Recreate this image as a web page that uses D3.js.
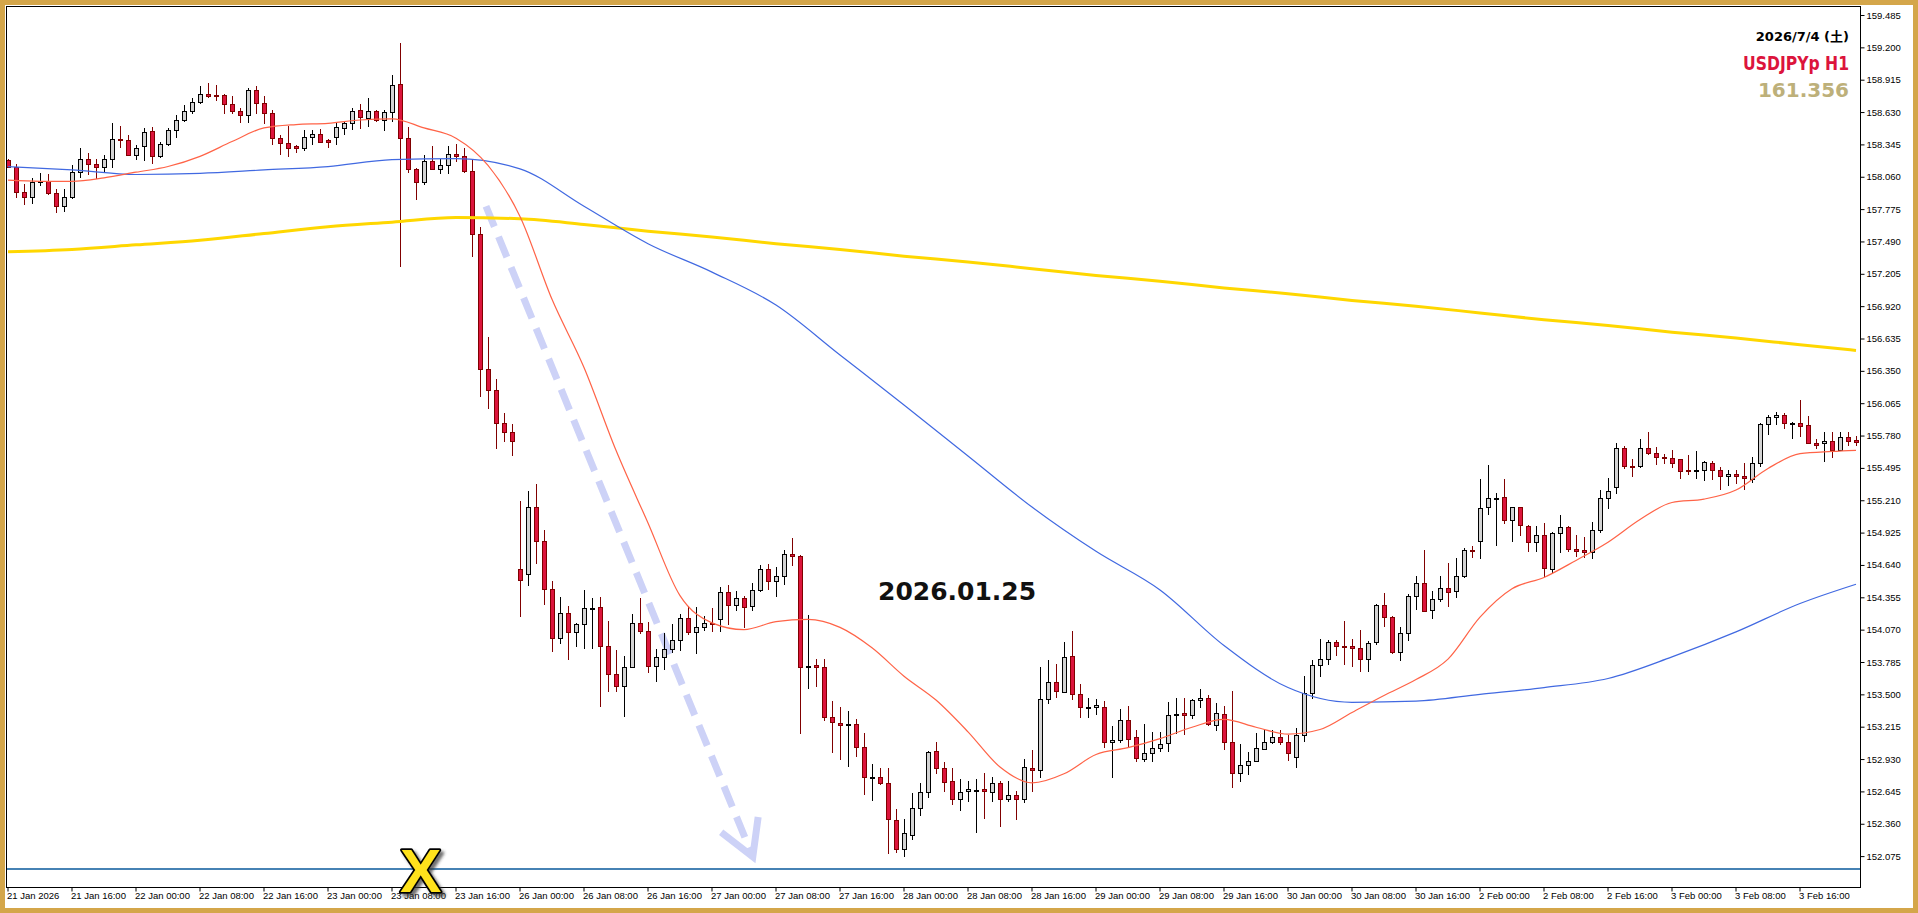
<!DOCTYPE html>
<html>
<head>
<meta charset="utf-8">
<script src="https://cdn.jsdelivr.net/npm/d3@7"></script>
<style>
  body { margin: 0; background: #fff; }
  svg { display: block; }
</style>
</head>
<body>
<div id="chart"></div>
<script>
// USDJPYp H1, 21 Jan 08:00 -> 3 Feb 23:00 (232 bars, weekends skipped)
const open = [
  158.21,158.15,157.93,157.88,158.01,158.02,157.92,157.80,157.88,158.10,158.22,158.17,158.15,158.22,158.39,158.38,
  158.25,158.33,158.46,158.24,158.35,158.47,158.56,158.64,158.72,158.79,158.78,158.78,158.70,158.64,158.60,158.82,
  158.71,158.62,158.40,158.36,158.33,158.31,158.41,158.44,158.38,158.41,158.49,158.53,158.65,158.58,158.64,158.56,
  158.63,158.88,158.40,158.13,158.01,158.20,158.13,158.16,158.26,158.24,158.11,157.56,156.37,156.18,155.89,155.81,
  154.60,154.56,155.15,154.85,154.43,154.00,154.22,154.05,154.12,154.26,154.27,153.93,153.68,153.57,153.74,154.13,
  154.06,153.75,153.83,153.90,153.98,154.17,154.05,154.09,154.13,154.16,154.40,154.29,154.35,154.28,154.42,154.60,
  154.50,154.54,154.74,154.72,153.74,153.76,153.74,153.30,153.25,153.23,153.24,153.04,152.77,152.77,152.72,152.39,
  152.14,152.26,152.50,152.64,153.00,152.85,152.74,152.58,152.65,152.66,152.67,152.64,152.72,152.58,152.61,152.58,
  152.85,152.83,153.46,153.61,153.52,153.84,153.50,153.39,153.39,153.39,153.08,153.10,153.27,153.12,152.93,152.98,
  153.03,153.07,153.32,153.34,153.32,153.45,153.47,153.23,153.33,153.08,152.81,152.88,152.91,153.02,153.08,153.12,
  153.08,152.95,153.14,153.51,153.76,153.81,153.96,153.93,153.93,153.91,153.81,153.96,154.29,154.18,153.87,154.04,
  154.37,154.48,154.24,154.34,154.44,154.41,154.54,154.77,154.85,155.15,155.23,155.24,155.04,155.15,154.98,154.84,
  154.90,154.60,154.92,154.97,154.78,154.77,154.75,154.95,155.23,155.33,155.67,155.51,155.51,155.67,155.63,155.59,
  155.58,155.57,155.48,155.47,155.48,155.54,155.48,155.42,155.44,155.42,155.40,155.54,155.88,155.94,155.96,155.89,
  155.89,155.87,155.71,155.71,155.73,155.65,155.77,155.74
];
const high = [
  158.22,158.17,158.00,158.05,158.09,158.08,157.95,157.95,158.16,158.31,158.27,158.22,158.25,158.53,158.51,158.43,
  158.34,158.49,158.50,158.37,158.49,158.60,158.69,158.75,158.86,158.89,158.87,158.79,158.77,158.67,158.84,158.86,
  158.77,158.65,158.43,158.51,158.34,158.47,158.47,158.48,158.39,158.54,158.55,158.67,158.70,158.75,158.65,158.65,
  158.96,159.24,158.50,158.14,158.25,158.33,158.22,158.33,158.35,158.31,158.22,157.62,156.65,156.28,155.98,155.88,
  155.20,155.29,155.35,154.95,154.50,154.36,154.28,154.13,154.42,154.35,154.36,154.15,153.89,153.84,154.21,154.35,
  154.14,153.90,154.04,154.12,154.21,154.28,154.27,154.19,154.26,154.45,154.46,154.41,154.37,154.48,154.64,154.65,
  154.62,154.77,154.88,154.73,154.20,153.81,153.81,153.44,153.39,153.35,153.28,153.16,152.89,152.85,152.85,152.49,
  152.40,152.63,152.72,153.00,153.08,152.90,152.85,152.75,152.74,152.75,152.81,152.77,152.74,152.74,152.65,152.93,
  153.01,153.74,153.80,153.77,153.96,154.06,153.59,153.47,153.46,153.44,153.22,153.37,153.40,153.19,153.24,153.17,
  153.17,153.43,153.47,153.47,153.46,153.55,153.49,153.42,153.40,153.53,153.06,152.99,153.16,153.19,153.19,153.19,
  153.14,153.20,153.66,153.80,153.99,153.98,153.98,154.15,153.99,154.07,153.97,154.30,154.39,154.19,154.09,154.38,
  154.54,154.77,154.41,154.54,154.66,154.70,154.79,154.81,155.40,155.52,155.27,155.40,155.15,155.15,154.99,154.98,
  155.01,154.93,155.08,154.98,154.90,154.89,155.02,155.30,155.41,155.71,155.69,155.57,155.75,155.81,155.68,155.62,
  155.65,155.57,155.61,155.64,155.56,155.56,155.50,155.48,155.48,155.54,155.59,155.89,155.96,155.99,155.98,155.90,
  156.09,155.95,155.75,155.81,155.81,155.81,155.81,155.78
];
const low = [
  158.15,157.88,157.82,157.83,157.99,157.91,157.75,157.76,157.87,158.06,158.08,158.05,158.11,158.15,158.32,158.25,
  158.22,158.21,158.18,158.23,158.34,158.41,158.55,158.62,158.71,158.76,158.74,158.62,158.62,158.54,158.54,158.62,
  158.53,158.35,158.26,158.24,158.28,158.30,158.35,158.37,158.32,158.35,158.44,158.48,158.49,158.51,158.55,158.47,
  158.55,157.27,158.10,157.86,158.00,158.13,158.09,158.09,158.20,158.10,157.36,156.13,156.02,155.67,155.73,155.61,
  154.19,154.46,154.66,154.30,153.88,153.95,153.81,153.93,153.91,153.91,153.40,153.53,153.53,153.31,153.74,154.04,
  153.70,153.62,153.72,153.87,153.89,154.03,153.86,154.07,154.06,154.06,154.12,154.24,154.09,154.24,154.41,154.43,
  154.37,154.47,154.64,153.16,153.56,153.57,153.27,152.99,152.93,152.87,152.96,152.62,152.57,152.71,152.10,152.11,
  152.08,152.23,152.44,152.60,152.81,152.65,152.53,152.48,152.56,152.29,152.41,152.56,152.34,152.56,152.40,152.55,
  152.65,152.77,153.42,153.48,153.52,153.46,153.30,153.30,153.33,153.04,152.77,153.08,153.04,152.91,152.91,152.91,
  153.00,153.00,153.16,153.15,153.29,153.39,153.23,153.19,153.02,152.68,152.74,152.80,152.91,153.02,153.07,153.06,
  152.92,152.86,153.09,153.47,153.66,153.77,153.85,153.77,153.75,153.71,153.71,153.94,154.10,153.86,153.80,153.98,
  154.25,154.23,154.17,154.32,154.28,154.36,154.53,154.71,154.70,155.09,154.82,155.01,154.85,154.90,154.76,154.76,
  154.54,154.58,154.75,154.76,154.72,154.71,154.70,154.93,155.14,155.27,155.49,155.42,155.50,155.62,155.53,155.54,
  155.50,155.41,155.44,155.41,155.39,155.40,155.31,155.34,155.36,155.31,155.37,155.51,155.79,155.88,155.85,155.76,
  155.78,155.71,155.67,155.56,155.59,155.65,155.70,155.70
];
const close = [
  158.15,157.93,157.88,158.01,158.02,157.92,157.80,157.88,158.10,158.22,158.17,158.15,158.22,158.39,158.38,158.25,
  158.31,158.45,158.24,158.35,158.47,158.56,158.64,158.72,158.79,158.77,158.77,158.70,158.64,158.60,158.82,158.71,
  158.62,158.40,158.36,158.31,158.31,158.41,158.44,158.37,158.37,158.50,158.53,158.64,158.59,158.64,158.56,158.63,
  158.87,158.40,158.13,158.01,158.20,158.13,158.16,158.26,158.24,158.11,157.56,156.37,156.18,155.89,155.81,155.73,
  154.51,155.15,154.85,154.43,154.00,154.22,154.05,154.12,154.26,154.26,153.93,153.68,153.57,153.74,154.13,154.06,
  153.75,153.83,153.90,153.98,154.17,154.05,154.09,154.13,154.12,154.40,154.29,154.35,154.27,154.42,154.60,154.50,
  154.54,154.74,154.72,153.74,153.75,153.74,153.30,153.26,153.23,153.24,153.04,152.77,152.77,152.72,152.40,152.14,
  152.28,152.50,152.64,152.99,152.85,152.73,152.58,152.64,152.67,152.66,152.65,152.72,152.58,152.61,152.58,152.86,
  152.83,153.46,153.61,153.53,153.83,153.50,153.39,153.39,153.41,153.08,153.10,153.27,153.11,152.94,152.98,153.03,
  153.06,153.32,153.33,153.32,153.45,153.47,153.24,153.34,153.08,152.81,152.88,152.91,153.03,153.08,153.12,153.08,
  152.98,153.14,153.51,153.76,153.81,153.96,153.93,153.92,153.91,153.81,153.95,154.29,154.18,153.87,154.04,154.37,
  154.48,154.23,154.34,154.44,154.40,154.54,154.77,154.76,155.14,155.23,155.23,155.04,155.15,154.99,154.84,154.90,
  154.61,154.92,154.97,154.78,154.76,154.75,154.95,155.23,155.29,155.67,155.51,155.50,155.67,155.63,155.59,155.58,
  155.54,155.47,155.47,155.48,155.55,155.48,155.42,155.44,155.42,155.41,155.54,155.88,155.94,155.96,155.89,155.89,
  155.86,155.71,155.70,155.73,155.65,155.77,155.73,155.72
];

// fast MA (red), read every 4 bars
const fastBars = [0,4,8,12,16,20,24,28,32,36,40,44,48,52,56,60,64,68,72,76,80,84,88,92,96,100,104,108,112,116,
                  120,124,128,132,136,140,144,148,152,156,160,164,168,172,176,180,184,188,192,196,200,204,208,212,216,220,224,228,231];
const maFast = [158.03,158.02,158.02,158.05,158.10,158.15,158.24,158.37,158.49,158.52,158.53,158.56,158.57,158.49,158.40,158.16,
                157.71,156.98,156.38,155.65,155.01,154.37,154.13,154.07,154.14,154.16,154.09,153.91,153.66,153.45,
                153.17,152.86,152.72,152.80,152.97,153.03,153.11,153.21,153.28,153.21,153.15,153.19,153.34,153.49,153.63,153.81,
                154.18,154.43,154.53,154.68,154.84,155.04,155.19,155.22,155.30,155.49,155.62,155.64,155.65];

// slower MAs (blue, yellow), read every 8 bars plus the last bar
const maBars = [0,8,16,24,32,40,48,56,64,72,80,88,96,104,112,120,128,136,144,152,160,168,176,184,192,200,208,216,224,231];
const maMid  = [158.15,158.12,158.08,158.09,158.12,158.15,158.21,158.22,158.13,157.80,157.47,157.22,156.93,156.49,156.05,155.60,
                155.15,154.76,154.42,153.93,153.56,153.43,153.44,153.50,153.56,153.64,153.83,154.05,154.30,154.47];
const maSlow = [157.40,157.42,157.46,157.50,157.56,157.62,157.66,157.70,157.69,157.64,157.58,157.53,157.47,157.42,157.36,157.31,
                157.25,157.19,157.14,157.08,157.03,156.97,156.92,156.86,156.80,156.75,156.69,156.64,156.58,156.53];

const priceTicks = [159.485,159.200,158.915,158.630,158.345,158.060,157.775,157.490,157.205,156.920,156.635,156.350,156.065,
                    155.780,155.495,155.210,154.925,154.640,154.355,154.070,153.785,153.500,153.215,152.930,152.645,152.360,152.075];
const timeTickBars = [0,8,16,24,32,40,48,56,64,72,80,88,96,104,112,120,128,136,144,152,160,168,176,184,192,200,208,216,224];
const timeLabels = ["21 Jan 2026","21 Jan 16:00","22 Jan 00:00","22 Jan 08:00","22 Jan 16:00","23 Jan 00:00","23 Jan 08:00",
  "23 Jan 16:00","26 Jan 00:00","26 Jan 08:00","26 Jan 16:00","27 Jan 00:00","27 Jan 08:00","27 Jan 16:00","28 Jan 00:00",
  "28 Jan 08:00","28 Jan 16:00","29 Jan 00:00","29 Jan 08:00","29 Jan 16:00","30 Jan 00:00","30 Jan 08:00","30 Jan 16:00",
  "2 Feb 00:00","2 Feb 08:00","2 Feb 16:00","3 Feb 00:00","3 Feb 08:00","3 Feb 16:00"];

const hLinePrice = 151.96;
const arrowFrom = { bar: 59.75, price: 157.80 };
const arrowTo   = { bar: 93.1,  price: 152.07 };
const dateNote  = { bar: 108.75, price: 154.33, text: "2026.01.25" };
const xMark     = { bar: 51.6,  price: 151.76, text: "X" };

const width = 1918, height = 913;
const plot = { left: 6, top: 6, right: 1860, bottom: 887 };

const svg = d3.select("#chart").append("svg")
  .attr("width", width)
  .attr("height", height);

const x = d3.scaleLinear().domain([0, 231]).range([8, 1856]);
const y = d3.scaleLinear().domain([152.075, 159.485]).range([856.1, 15]);

// frame
svg.append("rect").attr("width", width).attr("height", height).attr("fill", "#D4A64A");
svg.append("rect").attr("x", 5).attr("y", 5).attr("width", 1908).attr("height", 903).attr("fill", "#fff");

const defs = svg.append("defs");
defs.append("clipPath").attr("id", "plotclip")
  .append("rect")
  .attr("x", plot.left + 1).attr("y", plot.top + 1)
  .attr("width", plot.right - plot.left - 1).attr("height", plot.bottom - plot.top - 1);
const shadow = defs.append("filter").attr("id", "xshadow")
  .attr("x", "-30%").attr("y", "-30%").attr("width", "170%").attr("height", "170%");
shadow.append("feDropShadow").attr("dx", 3).attr("dy", 3).attr("stdDeviation", 1.6)
  .attr("flood-color", "#333").attr("flood-opacity", 0.7);

const g = svg.append("g").attr("clip-path", "url(#plotclip)");

// dashed trend arrow (drawn behind the candles)
const ax1 = x(arrowFrom.bar), ay1 = y(arrowFrom.price);
const ax2 = x(arrowTo.bar), ay2 = y(arrowTo.price);
const ang = Math.atan2(ay2 - ay1, ax2 - ax1);
g.append("line")
  .attr("x1", ax1).attr("y1", ay1)
  .attr("x2", ax2 - 6 * Math.cos(ang)).attr("y2", ay2 - 6 * Math.sin(ang))
  .attr("stroke", "#CDD2F7").attr("stroke-width", 7)
  .attr("stroke-dasharray", "22,11");
const headLen = 40, spread = Math.PI / 6;
g.append("polyline")
  .attr("points", [
    [ax2 - headLen * Math.cos(ang - spread), ay2 - headLen * Math.sin(ang - spread)],
    [ax2, ay2],
    [ax2 - headLen * Math.cos(ang + spread), ay2 - headLen * Math.sin(ang + spread)]
  ].map(p => p.join(",")).join(" "))
  .attr("fill", "none").attr("stroke", "#CDD2F7").attr("stroke-width", 7)
  .attr("stroke-linejoin", "miter");

// candles
const bars = d3.range(open.length).map(i => ({
  i: i, o: open[i], h: high[i], l: low[i], c: close[i], up: close[i] >= open[i]
}));

const candle = g.append("g").selectAll("g")
  .data(bars)
  .enter().append("g");

candle.append("line")
  .attr("x1", d => Math.round(x(d.i)) + 0.5)
  .attr("x2", d => Math.round(x(d.i)) + 0.5)
  .attr("y1", d => Math.round(y(d.h)))
  .attr("y2", d => Math.round(y(d.l)) + 1)
  .attr("stroke", d => d.up ? "#000" : "#800000")
  .attr("stroke-width", 1);

candle.append("rect")
  .attr("x", d => Math.round(x(d.i)) - 1.5)
  .attr("width", 4)
  .attr("y", d => Math.round(y(Math.max(d.o, d.c))) + 0.5)
  .attr("height", d => Math.max(1, Math.round(y(Math.min(d.o, d.c))) - Math.round(y(Math.max(d.o, d.c)))))
  .attr("fill", d => d.up ? "#D3D3D3" : "#DC143C")
  .attr("stroke", d => d.up ? "#000" : "#800000")
  .attr("stroke-width", 1);

// moving averages
const maLine = d3.line()
  .x(d => x(d[0]))
  .y(d => y(d[1]))
  .curve(d3.curveMonotoneX);

g.append("path")
  .attr("d", maLine(maBars.map((b, k) => [b, maSlow[k]])))
  .attr("fill", "none").attr("stroke", "#FFD700").attr("stroke-width", 3);
g.append("path")
  .attr("d", maLine(maBars.map((b, k) => [b, maMid[k]])))
  .attr("fill", "none").attr("stroke", "#4169E1").attr("stroke-width", 1.2);
g.append("path")
  .attr("d", maLine(fastBars.map((b, k) => [b, maFast[k]])))
  .attr("fill", "none").attr("stroke", "#FF6347").attr("stroke-width", 1.2);

// horizontal level
g.append("line")
  .attr("x1", plot.left).attr("x2", plot.right)
  .attr("y1", Math.round(y(hLinePrice))).attr("y2", Math.round(y(hLinePrice)))
  .attr("stroke", "#4682B4").attr("stroke-width", 2);

// date note
svg.append("text")
  .attr("x", x(dateNote.bar))
  .attr("y", y(dateNote.price))
  .attr("font-family", "'DejaVu Sans', sans-serif")
  .attr("font-weight", "bold")
  .attr("font-size", 25)
  .attr("fill", "#111")
  .text(dateNote.text);

// plot frame
svg.append("rect")
  .attr("x", plot.left + 0.5).attr("y", plot.top + 0.5)
  .attr("width", plot.right - plot.left).attr("height", plot.bottom - plot.top)
  .attr("fill", "none").attr("stroke", "#000").attr("stroke-width", 1);

// price axis
const yAxis = svg.append("g")
  .attr("transform", "translate(" + (plot.right + 0.5) + ",0)")
  .call(d3.axisRight(y).tickValues(priceTicks).tickSize(4).tickPadding(2).tickFormat(d3.format(".3f")));
yAxis.select(".domain").remove();
yAxis.selectAll("line").attr("stroke", "#000");
yAxis.selectAll("text")
  .attr("font-family", "'Liberation Sans', Arial, sans-serif")
  .attr("font-size", 9.5)
  .attr("fill", "#000");

// time axis
const xAxis = svg.append("g")
  .attr("transform", "translate(-0.5," + (plot.bottom + 0.5) + ")")
  .call(d3.axisBottom(x).tickValues(timeTickBars).tickSize(4)
    .tickFormat((d, k) => timeLabels[k]));
xAxis.select(".domain").remove();
xAxis.selectAll("line").attr("stroke", "#000");
xAxis.selectAll("text")
  .attr("text-anchor", "start")
  .attr("x", -1)
  .attr("y", 5)
  .attr("font-family", "'Liberation Sans', Arial, sans-serif")
  .attr("font-size", 9.5)
  .attr("fill", "#000");

// X marker
svg.append("text")
  .attr("x", x(xMark.bar))
  .attr("y", y(xMark.price))
  .attr("text-anchor", "middle")
  .attr("font-family", "'Liberation Sans', Arial, sans-serif")
  .attr("font-weight", "bold")
  .attr("font-size", 62)
  .attr("fill", "#FFE21A")
  .attr("stroke", "#000")
  .attr("stroke-width", 3.5)
  .attr("stroke-linejoin", "round")
  .attr("paint-order", "stroke")
  .attr("filter", "url(#xshadow)")
  .text(xMark.text);

// symbol info, top right
const info = svg.append("g").attr("text-anchor", "end");
info.append("text")
  .attr("x", 1849).attr("y", 41)
  .attr("font-family", "'DejaVu Sans', 'Noto Sans CJK JP', sans-serif")
  .attr("font-weight", "bold").attr("font-size", 13)
  .attr("fill", "#000")
  .text("2026/7/4 (土)");
info.append("text")
  .attr("x", 1849).attr("y", 70)
  .attr("font-family", "'DejaVu Sans', sans-serif")
  .attr("font-weight", "bold").attr("font-size", 20)
  .attr("textLength", 106)
  .attr("lengthAdjust", "spacingAndGlyphs")
  .attr("fill", "#DC143C")
  .text("USDJPYp H1");
info.append("text")
  .attr("x", 1849).attr("y", 97)
  .attr("font-family", "'DejaVu Sans', sans-serif")
  .attr("font-weight", "bold").attr("font-size", 20)
  .attr("fill", "#BDB07A")
  .text("161.356");
</script>
</body>
</html>
